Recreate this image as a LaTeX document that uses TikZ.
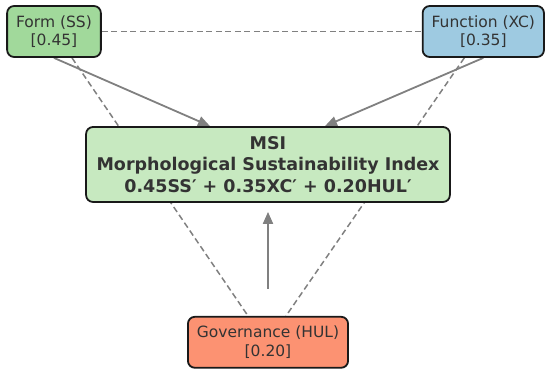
\documentclass[tikz,border=0pt]{standalone}
\usepackage{fontspec}
\setmainfont{DejaVu Sans}
\usepackage{tikz}
\usetikzlibrary{positioning}
\usetikzlibrary{calc}
\usetikzlibrary{arrows.meta}
\usetikzlibrary{backgrounds}

\definecolor{formgreen}{HTML}{A1D99B}
\definecolor{funcblue}{HTML}{9ECAE1}
\definecolor{msigreen}{HTML}{C7E9C0}
\definecolor{govred}{HTML}{FC9272}
\definecolor{txtgray}{HTML}{333333}
\definecolor{linegray}{HTML}{808080}

\tikzset{
    factorbox/.style={draw=black!90, line width=1.8pt, rounded corners=7pt, align=center,
        text=txtgray, inner xsep=9pt, minimum height=51pt,
        font=\fontsize{15.5}{18.4}\selectfont},
    indexbox/.style={factorbox, inner xsep=10.5pt, minimum height=75pt,
        font=\fontsize{17.5}{21.5}\selectfont\bfseries},
    weightarrow/.style={draw=linegray, line width=1.8pt, -{Triangle[length=12pt,width=10pt]}},
    linkline/.style={draw=linegray, line width=1.5pt, dash pattern=on 6pt off 3.5pt}
}

\begin{document}
\begin{tikzpicture}
    \useasboundingbox (0,0) rectangle (550pt,372pt);

    \node [factorbox, fill=formgreen] (form) at (54pt,340.5pt) {Form (SS)\\{[0.45]}};
    \node [factorbox, fill=funcblue, right=320pt of form] (func) {Function (XC)\\{[0.35]}};

    \node [indexbox, fill=msigreen] (msi) at (268pt,207.5pt)
        {MSI\\Morphological Sustainability Index\\0.45SS′ + 0.35XC′ + 0.20HUL′};

    \node [factorbox, fill=govred, below=113pt of msi] (gov) {Governance (HUL)\\{[0.20]}};

    \begin{pgfonlayer}{background}
        % links between the three factors
        \draw [linkline] (form.east) -- (func.west);
        \draw [linkline] ($(form.south)+(18pt,0)$) -- ($(gov.north)+(-20pt,0)$);
        \draw [linkline] ($(func.south)+(-19pt,0)$) -- ($(gov.north)+(18pt,0)$);

        % weights into the index
        \draw [weightarrow] (form.south) -- ($(msi.north)+(-58pt,0)$);
        \draw [weightarrow] (func.south) -- ($(msi.north)+(57pt,0)$);
        \draw [weightarrow, shorten <=27pt, shorten >=9pt] (gov.north) -- (msi.south);
    \end{pgfonlayer}
\end{tikzpicture}
\end{document}
